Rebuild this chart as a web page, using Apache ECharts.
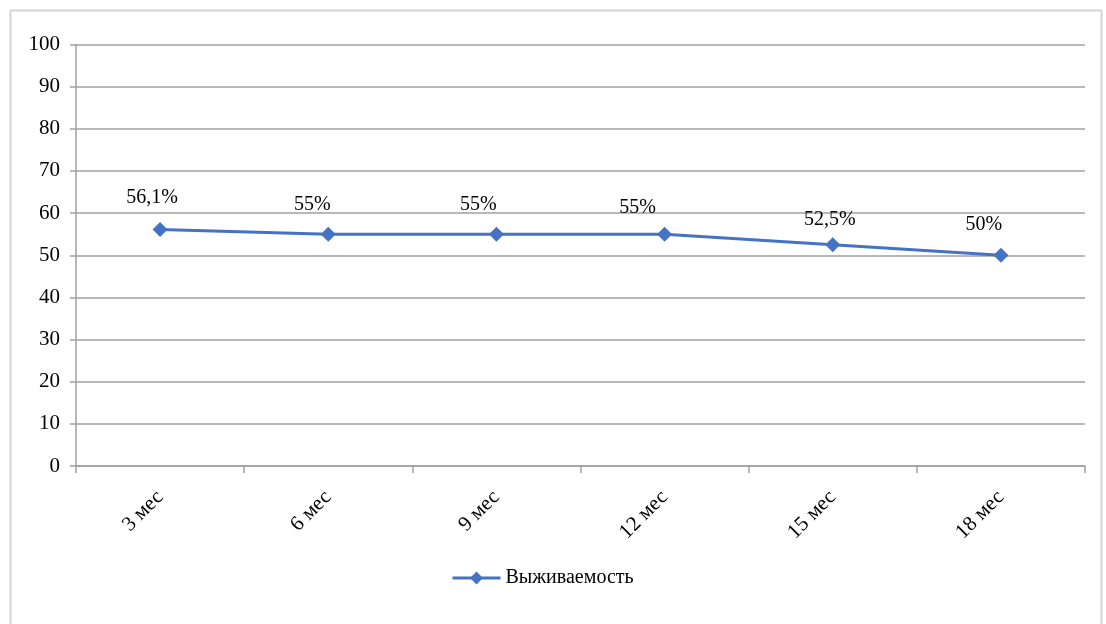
<!DOCTYPE html>
<html><head><meta charset="utf-8">
<script src="https://cdn.jsdelivr.net/npm/echarts@6/dist/echarts.min.js"></script>
<style>html,body{margin:0;padding:0;background:#fff}#c{width:1106px;height:624px}</style>
</head><body><div id="c"></div>
<script>
const categories = ['3 мес','6 мес','9 мес','12 мес','15 мес','18 мес'];
const survival = [56.1, 55, 55, 55, 52.5, 50];
const pointLabels = ['56,1%','55%','55%','55%','52,5%','50%'];
const yTicks = [0,10,20,30,40,50,60,70,80,90,100];
const seriesName = 'Выживаемость';
// manual label nudges (px) as placed in the original
const labelNudges = [[-8,-2],[-16,0],[-18,0],[-27,3],[-3,5],[-17,-1]];

const font = '"Liberation Serif", "Times New Roman", serif';
const chart = echarts.init(document.getElementById('c'));
chart.setOption({
  backgroundColor: '#fff',
  animation: false,
  textStyle: { fontFamily: font },
  graphic: [{
    type: 'rect', shape: { x: 10.5, y: 10.5, width: 1091, height: 640 },
    style: { fill: 'none', stroke: '#d4d4d4', lineWidth: 2 }, silent: true
  }],
  grid: { left: 76, right: 21, top: 44.5, bottom: 158, containLabel: false },
  legend: {
    data: [seriesName], top: 563, left: 446,
    itemWidth: 48, itemHeight: 16, itemGap: 4,
    lineStyle: { width: 3 },
    textStyle: { fontFamily: font, fontSize: 20, color: '#000' }
  },
  xAxis: {
    type: 'category', data: categories, boundaryGap: true,
    axisLine: { lineStyle: { color: '#a0a0a0', width: 1.5 } },
    axisTick: { show: true, length: 7, alignWithLabel: false, lineStyle: { color: '#a0a0a0', width: 1.5 } },
    axisLabel: { rotate: 45, margin: 28, fontFamily: font, fontSize: 21, color: '#000' }
  },
  yAxis: {
    type: 'value', min: 0, max: 100, interval: 10,
    axisLine: { show: true, lineStyle: { color: '#a0a0a0', width: 1.5 } },
    axisTick: { show: true, length: 6, lineStyle: { color: '#a0a0a0', width: 1.5 } },
    splitLine: { lineStyle: { color: '#a0a0a0', width: 1.5 } },
    axisLabel: { margin: 16, fontFamily: font, fontSize: 21, color: '#000',
      formatter: v => yTicks.includes(v) ? String(v) : '' }
  },
  series: [{
    name: seriesName, type: 'line',
    data: survival.map((v, i) => ({ value: v, label: { offset: labelNudges[i] } })),
    symbol: 'diamond', symbolSize: 15,
    lineStyle: { color: '#4472C4', width: 3 },
    itemStyle: { color: '#4472C4' },
    label: { show: true, position: 'top', distance: 12, fontFamily: font, fontSize: 20, color: '#000',
      formatter: p => pointLabels[p.dataIndex] }
  }]
});
</script></body></html>
